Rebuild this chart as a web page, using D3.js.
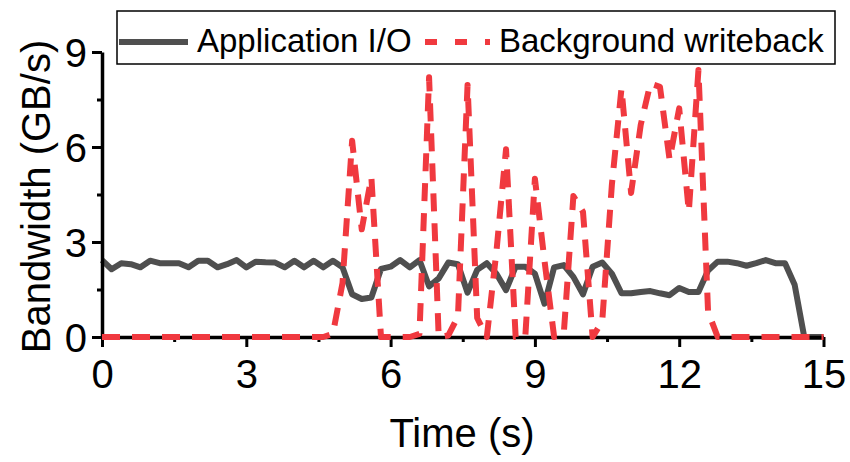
<!DOCTYPE html>
<html>
<head>
<meta charset="utf-8">
<script src="https://cdn.jsdelivr.net/npm/d3@7"></script>
<style>
  body { margin: 0; background: #fff; }
  text { font-family: "Liberation Sans", Arial, sans-serif; }
</style>
</head>
<body>
<div id="chart"></div>
<script>
// sample times (s), one sample every 0.2 s
const timeS = [0, 0.2, 0.4, 0.6, 0.8, 1, 1.2, 1.4, 1.6, 1.8, 2, 2.2, 2.4, 2.6, 2.8, 3, 3.2, 3.4, 3.6, 3.8,
  4, 4.2, 4.4, 4.6, 4.8, 5, 5.2, 5.4, 5.6, 5.8, 6, 6.2, 6.4, 6.6, 6.8, 7, 7.2, 7.4, 7.6, 7.8,
  8, 8.2, 8.4, 8.6, 8.8, 9, 9.2, 9.4, 9.6, 9.8, 10, 10.2, 10.4, 10.6, 10.8, 11, 11.2, 11.4, 11.6, 11.8,
  12, 12.2, 12.4, 12.6, 12.8, 13, 13.2, 13.4, 13.6, 13.8, 14, 14.2, 14.4, 14.6, 14.8, 15];

// Application I/O bandwidth (GB/s)
const appIO = [2.43, 2.14, 2.33, 2.3, 2.2, 2.41, 2.33, 2.33, 2.33, 2.2, 2.41, 2.41, 2.2, 2.3, 2.43, 2.2, 2.38, 2.36, 2.35, 2.2,
  2.41, 2.2, 2.41, 2.2, 2.41, 2.2, 1.35, 1.2, 1.25, 2.15, 2.22, 2.43, 2.2, 2.43, 1.6, 1.85, 2.35, 2.3, 1.4, 2.12,
  2.33, 2.0, 1.48, 2.22, 2.22, 2.0, 1.05, 2.2, 2.27, 1.9, 1.35, 2.22, 2.35, 2.0, 1.38, 1.38, 1.42, 1.45, 1.38, 1.32,
  1.55, 1.42, 1.42, 2.1, 2.38, 2.38, 2.33, 2.25, 2.33, 2.43, 2.33, 2.33, 1.65, 0, 0, 0];

// Background writeback bandwidth (GB/s)
const writeback = [0, 0, 0, 0, 0, 0, 0, 0, 0, 0, 0, 0, 0, 0, 0, 0, 0, 0, 0, 0,
  0, 0, 0, 0, 0.1, 1.7, 6.2, 3.4, 5.05, 0, 0, 0, 0, 0.1, 8.2, 0, 0.05, 0.65, 7.96, 0.6,
  0, 2.7, 5.93, 0, 0, 5.0, 2.4, 0, 0.1, 4.45, 3.95, 0, 0.5, 4.8, 7.85, 4.55, 6.7, 8.0, 7.9, 5.6,
  7.22, 3.96, 8.43, 0.8, 0, 0, 0, 0, 0, 0, 0, 0, 0, 0, 0, 0];

const xMajor = [0, 3, 6, 9, 12, 15];
const xMinor = [1.5, 4.5, 7.5, 10.5, 13.5];
const yMajor = [0, 3, 6, 9];
const yMinor = [1.5, 4.5, 7.5];

const seriesNames = ["Application I/O", "Background writeback"];

const width = 850, height = 462;
const grey = "#4f4f4f", red = "#f0393f";

const svg = d3.select("#chart").append("svg")
    .attr("width", width)
    .attr("height", height);

const x = d3.scaleLinear().domain([0, 15]).range([102, 823.5]);
const y = d3.scaleLinear().domain([0, 9]).range([337, 52]);

const line = d3.line()
    .x(d => x(d[0]))
    .y(d => y(d[1]));

// Application I/O line (drawn first, under the axes)
svg.append("path")
    .datum(timeS.map((t, i) => [t, appIO[i]]))
    .attr("fill", "none")
    .attr("stroke", grey)
    .attr("stroke-width", 6)
    .attr("stroke-linejoin", "round")
    .attr("d", line);

// minor ticks
svg.append("g")
    .attr("transform", `translate(0,${y(0)})`)
    .call(d3.axisBottom(x).tickValues(xMinor).tickSize(5).tickFormat("").tickSizeOuter(0))
    .call(g => g.select(".domain").remove())
    .call(g => g.selectAll("line").attr("stroke-width", 3));

svg.append("g")
    .attr("transform", `translate(${x(0)},0)`)
    .call(d3.axisLeft(y).tickValues(yMinor).tickSize(5).tickFormat("").tickSizeOuter(0))
    .call(g => g.select(".domain").remove())
    .call(g => g.selectAll("line").attr("stroke-width", 3));

// X axis
svg.append("g")
    .attr("transform", `translate(0,${y(0)})`)
    .call(d3.axisBottom(x).tickValues(xMajor).tickSize(10).tickSizeOuter(0).tickFormat(d3.format("d")))
    .call(g => g.select(".domain").attr("stroke-width", 3.5))
    .call(g => g.selectAll("line").attr("stroke-width", 3))
    .call(g => g.selectAll("text")
        .attr("y", 51).attr("dy", 0)
        .attr("fill", "#000")
        .style("font-size", "40px")
        .style("font-family", "'Liberation Sans', Arial, sans-serif"));

// Y axis
svg.append("g")
    .attr("transform", `translate(${x(0)},0)`)
    .call(d3.axisLeft(y).tickValues(yMajor).tickSize(10).tickSizeOuter(0).tickPadding(5).tickFormat(d3.format("d")))
    .call(g => g.select(".domain").attr("stroke-width", 3.5))
    .call(g => g.selectAll("line").attr("stroke-width", 3))
    .call(g => g.selectAll("text")
        .attr("dy", "0.36em")
        .attr("fill", "#000")
        .style("font-size", "40px")
        .style("font-family", "'Liberation Sans', Arial, sans-serif"));

// Background writeback line (on top of the axes)
svg.append("path")
    .datum(timeS.map((t, i) => [t, writeback[i]]))
    .attr("fill", "none")
    .attr("stroke", red)
    .attr("stroke-width", 6)
    .attr("stroke-dasharray", "18,12")
    .attr("stroke-linejoin", "round")
    .attr("d", line);

// axis titles
svg.append("text")
    .attr("x", 462)
    .attr("y", 447)
    .attr("text-anchor", "middle")
    .style("font-size", "40px")
    .text("Time (s)");

svg.append("text")
    .attr("transform", `translate(50,${(y(0) + y(9)) / 2 + 2}) rotate(-90)`)
    .attr("text-anchor", "middle")
    .style("font-size", "40px")
    .text("Bandwidth (GB/s)");

// legend
const legend = svg.append("g");
legend.append("rect")
    .attr("x", 117).attr("y", 11)
    .attr("width", 718).attr("height", 53)
    .attr("fill", "#fff")
    .attr("stroke", "#000")
    .attr("stroke-width", 1.5);

legend.append("line")
    .attr("x1", 119).attr("x2", 188)
    .attr("y1", 42).attr("y2", 42)
    .attr("stroke", grey).attr("stroke-width", 6);
legend.append("text")
    .attr("x", 197).attr("y", 52)
    .style("font-size", "33px")
    .text(seriesNames[0]);

legend.append("line")
    .attr("x1", 425).attr("x2", 490)
    .attr("y1", 42).attr("y2", 42)
    .attr("stroke", red).attr("stroke-width", 6)
    .attr("stroke-dasharray", "12,18");
legend.append("text")
    .attr("x", 499).attr("y", 52)
    .style("font-size", "33px")
    .text(seriesNames[1]);
</script>
</body>
</html>
